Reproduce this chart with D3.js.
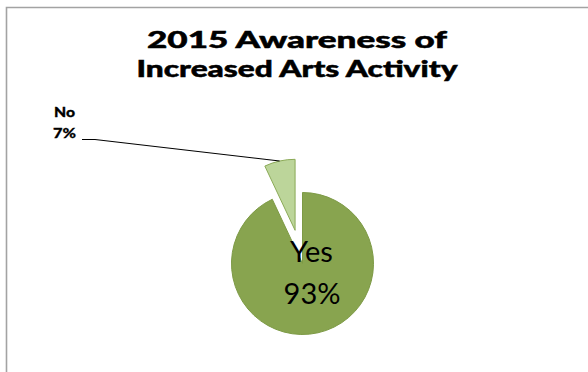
<!DOCTYPE html>
<html>
<head>
<meta charset="utf-8">
<script src="https://cdn.jsdelivr.net/npm/d3@7"></script>
<style>
  html, body { margin: 0; padding: 0; background: #fff; }
  svg { display: block; }
</style>
</head>
<body>
<svg id="chart" width="588" height="372"></svg>
<script>
// Survey answers and their shares (percent)
const categories = ["Yes", "No"];
const values = [93, 7];
const titleLines = ["2015 Awareness of", "Increased Arts Activity"];

const fills = { Yes: "#88A44F", No: "#BCD59A" };
const strokes = { Yes: "#7D9A45", No: "#8BAA57" };

const svg = d3.select("#chart");

// chart area frame (extends past the right and bottom edges)
svg.append("path")
  .attr("d", "M6.5,400 V7.5 H600")
  .attr("fill", "none")
  .attr("stroke", "#a3a3a3")
  .attr("stroke-width", 1.6);

// title, wide and heavy
const titleWidths = [300, 321];
const title = svg.append("text")
  .attr("text-anchor", "middle")
  .attr("font-family", "Lato, 'Open Sans', sans-serif")
  .attr("font-weight", 900)
  .attr("font-size", 23)
  .attr("fill", "#000")
  .attr("stroke", "#000")
  .attr("stroke-width", 0.5);
title.selectAll("tspan")
  .data(titleLines)
  .join("tspan")
  .attr("x", 297)
  .attr("y", (d, i) => 48 + i * 29)
  .attr("textLength", (d, i) => titleWidths[i])
  .attr("lengthAdjust", "spacingAndGlyphs")
  .text(d => d);

// pie
const cx = 302.5, cy = 263.5, r = 71, explode = 34;
const data = categories.map((c, i) => ({ label: c, value: values[i] }));
const pie = d3.pie().sort(null).value(d => d.value).startAngle(0).endAngle(2 * Math.PI);
const arcs = pie(data);
const arc = d3.arc().innerRadius(0).outerRadius(r);
const rim = d3.arc().innerRadius(r).outerRadius(r);

const g = svg.append("g").attr("transform", `translate(${cx},${cy})`);

function offsetOf(d) {
  if (d.data.label !== "No") return [0, 0];
  const mid = (d.startAngle + d.endAngle) / 2;
  return [Math.sin(mid) * explode, -Math.cos(mid) * explode];
}

g.selectAll("path.slice")
  .data(arcs)
  .join("path")
  .attr("class", "slice")
  .attr("d", arc)
  .attr("transform", d => `translate(${offsetOf(d)})`)
  .attr("fill", d => fills[d.data.label])
  .attr("stroke", d => strokes[d.data.label])
  .attr("stroke-width", 1);

// Yes label inside its slice
const yesArc = arcs.find(d => d.data.label === "Yes");
const inner = g.append("text")
  .attr("text-anchor", "middle")
  .attr("font-family", "Lato, 'Open Sans', sans-serif")
  .attr("font-size", 29)
  .attr("fill", "#000");
inner.append("tspan").attr("x", 9).attr("y", -2).text(yesArc.data.label);
inner.append("tspan").attr("x", 9.5).attr("y", 40.5).text(yesArc.value + "%");

// No label outside with leader line to the middle of its rim
const noArc = arcs.find(d => d.data.label === "No");
const off = offsetOf(noArc);
const tip = rim.centroid(noArc);
const tipAbs = [cx + tip[0] + off[0], cy + tip[1] + off[1]];

svg.append("path")
  .attr("d", `M82,139.5 H95 L${tipAbs[0]},${tipAbs[1]}`)
  .attr("fill", "none")
  .attr("stroke", "#000")
  .attr("stroke-width", 1.1);

const outer = svg.append("text")
  .attr("text-anchor", "middle")
  .attr("font-family", "Lato, 'Open Sans', sans-serif")
  .attr("font-weight", 900)
  .attr("font-size", 14)
  .attr("fill", "#000")
  .attr("stroke", "#000")
  .attr("stroke-width", 0.3);
outer.append("tspan").attr("x", 64.5).attr("y", 117).attr("textLength", 21)
  .attr("lengthAdjust", "spacingAndGlyphs").text(noArc.data.label);
outer.append("tspan").attr("x", 64.5).attr("y", 138).attr("textLength", 23)
  .attr("lengthAdjust", "spacingAndGlyphs").text(noArc.value + "%");
</script>
</body>
</html>
